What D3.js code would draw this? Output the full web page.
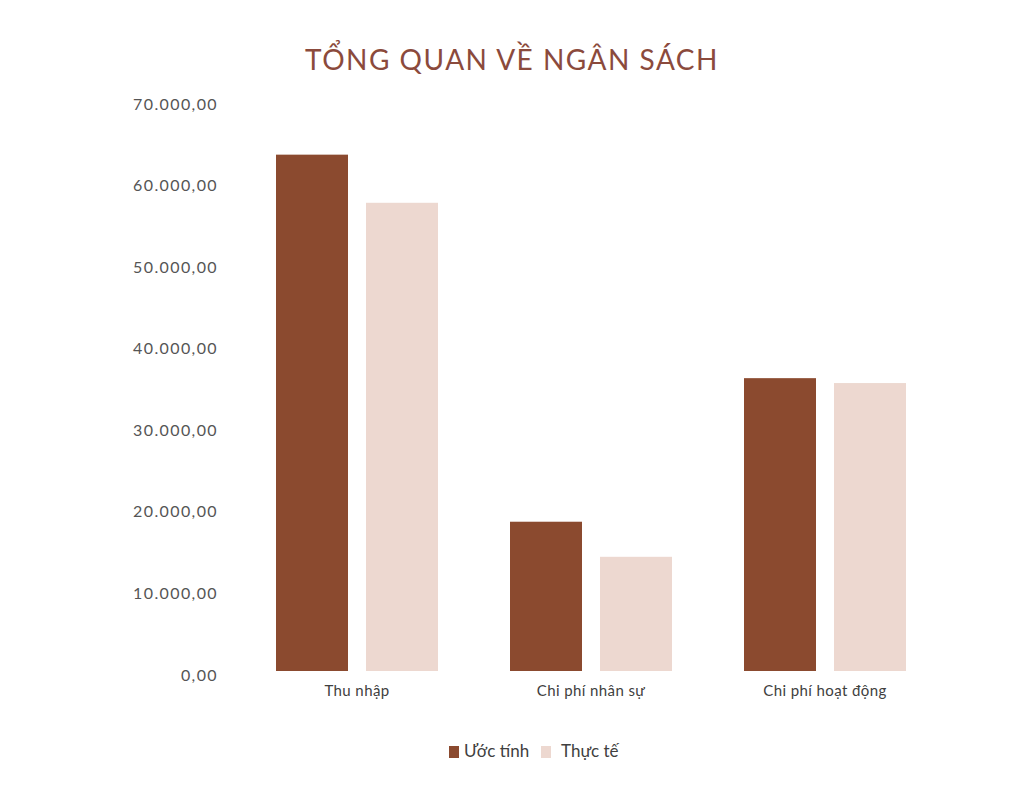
<!DOCTYPE html>
<html>
<head>
<meta charset="utf-8">
<script src="https://cdn.jsdelivr.net/npm/d3@7"></script>
<style>
  body { margin: 0; background: #fff; }
  text { font-family: Lato, "Open Sans", sans-serif; }
</style>
</head>
<body>
<script>
/* DATA */
const categories = ["Thu nhập", "Chi phí nhân sự", "Chi phí hoạt động"];
const seriesNames = ["Ước tính", "Thực tế"];
const estimated = [63300, 18300, 35900];
const actual = [57400, 14000, 35300];
const yTicks = [0, 10000, 20000, 30000, 40000, 50000, 60000, 70000];
const title = "TỔNG QUAN VỀ NGÂN SÁCH";

/* CONSTANTS */
const width = 1028;
const height = 800;
const colors = ["#8b4a2f", "#edd8d0"];

const rows = categories.map((c, i) => ({ cat: c, values: [estimated[i], actual[i]] }));

const svg = d3.select("body").append("svg")
    .attr("width", width)
    .attr("height", height);

// title
svg.append("text")
    .attr("x", 512)
    .attr("y", 70)
    .attr("text-anchor", "middle")
    .attr("fill", "#8b4a3c")
    .attr("font-size", 28)
    .attr("letter-spacing", 1.5)
    .text(title);

// scales
const x0 = d3.scaleBand()
    .domain(categories)
    .range([240, 942])
    .paddingInner(72 / 234)
    .paddingOuter(36 / 234);

const x1 = d3.scaleBand()
    .domain(seriesNames)
    .range([0, x0.bandwidth()])
    .paddingInner(0.2);

const y = d3.scaleLinear()
    .domain([0, 70000])
    .range([671, 100]);

// vietnamese number format: 70.000,00
const fmt = v => d3.format(",.2f")(v).replace(/,/g, "#").replace(/\./g, ",").replace(/#/g, ".");

// y axis (labels only)
const yAxis = d3.axisLeft(y)
    .tickValues(yTicks)
    .tickSize(0)
    .tickPadding(0)
    .tickFormat(fmt);

svg.append("g")
    .attr("transform", "translate(218,4)")
    .call(yAxis)
    .call(g => g.select(".domain").remove())
    .call(g => g.selectAll("text")
        .attr("font-family", "Lato, 'Open Sans', sans-serif")
        .attr("font-size", 16)
        .attr("letter-spacing", 1.4)
        .attr("fill", "#555"));

// bars
const groups = svg.selectAll(".grp")
    .data(rows)
    .enter()
    .append("g")
    .attr("class", "grp")
    .attr("transform", d => "translate(" + x0(d.cat) + ",0)");

groups.selectAll("rect")
    .data(d => d.values.map((v, i) => ({ key: seriesNames[i], value: v, i: i })))
    .enter()
    .append("rect")
    .attr("x", d => x1(d.key))
    .attr("width", x1.bandwidth())
    .attr("y", d => y(d.value))
    .attr("height", d => y(0) - y(d.value))
    .attr("fill", d => colors[d.i]);

// x axis labels
const xAxis = d3.axisBottom(x0).tickSize(0).tickPadding(0);
svg.append("g")
    .attr("transform", "translate(0,683)")
    .call(xAxis)
    .call(g => g.select(".domain").remove())
    .call(g => g.selectAll("text")
        .attr("dy", "0.85em")
        .attr("font-family", "Lato, 'Open Sans', sans-serif")
        .attr("font-size", 15)
        .attr("letter-spacing", 0.4)
        .attr("fill", "#404040"));

// legend
const legend = svg.append("g").attr("transform", "translate(449,752)");
const legendX = [0, 92];
const textGap = [15, 20];
seriesNames.forEach((s, i) => {
    legend.append("rect")
        .attr("x", legendX[i])
        .attr("y", -6)
        .attr("width", 10)
        .attr("height", 12)
        .attr("fill", colors[i]);
    legend.append("text")
        .attr("x", legendX[i] + textGap[i])
        .attr("y", 5)
        .attr("font-size", 17)
        .attr("fill", "#404040")
        .text(s);
});
</script>
</body>
</html>
